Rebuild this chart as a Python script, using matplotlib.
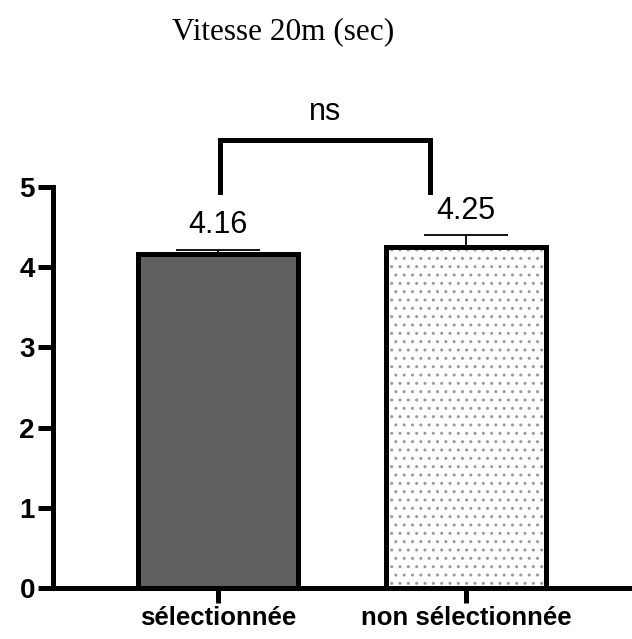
import matplotlib.pyplot as plt

# data
groups = ["sélectionnée", "non sélectionnée"]
means = [4.16, 4.25]
errs = [0.06, 0.15]
value_labels = ["4.16", "4.25"]
yticks = [0, 1, 2, 3, 4, 5]
title = "Vitesse 20m (sec)"
sig_label = "ns"

fig = plt.figure(figsize=(6.32, 6.39), dpi=100)
ax = fig.add_axes([0.0839, 0.0798, 0.9161, 0.6275])

x = list(range(len(groups)))
width = 0.645

# first bar solid grey, second dotted
ax.bar(x[0], means[0], width=width, color="#606060", edgecolor="black",
       linewidth=3.6, zorder=2)
ax.bar(x[1], means[1], width=width, color="white", edgecolor="#9a9a9a",
       hatch="..", linewidth=0, zorder=2)
ax.bar(x[1], means[1], width=width, facecolor="none", edgecolor="black",
       linewidth=3.6, zorder=3)

# upper-only error bars
for xi, m, e in zip(x, means, errs):
    ax.errorbar(xi, m, yerr=[[0], [e]], fmt="none", ecolor="black",
                elinewidth=1.3, capsize=30, capthick=1.3, zorder=1)

for xi, m, e, lab in zip(x, means, errs, value_labels):
    ax.text(xi, m + e + 0.12, lab, ha="center", va="bottom",
            fontsize=22, family="Liberation Sans")

# significance bracket
bx0, bx1 = 0.008, 0.855
ax.plot([bx0, bx0, bx1, bx1], [4.94, 5.59, 5.59, 4.94], color="black",
        lw=3.6, clip_on=False, solid_joinstyle="miter")
ax.text((bx0 + bx1) / 2, 5.75, sig_label, ha="center", va="bottom",
        fontsize=22, family="Liberation Sans")

ax.set_xlim(-0.665, 1.669)
ax.set_ylim(0, 5)
ax.set_yticks(yticks)
ax.set_xticks(x)
ax.set_xticklabels(groups)

for s in ["top", "right"]:
    ax.spines[s].set_visible(False)
for s in ["left", "bottom"]:
    ax.spines[s].set_linewidth(3.6)

ax.tick_params(axis="both", width=3.6, length=11, pad=2)
for lab in ax.get_yticklabels():
    lab.set_fontfamily("Liberation Sans")
    lab.set_fontweight("bold")
    lab.set_fontsize(20)
for lab in ax.get_xticklabels():
    lab.set_fontfamily("Liberation Sans")
    lab.set_fontweight("bold")
    lab.set_fontsize(18.5)

fig.text(0.448, 0.950, title, ha="center", va="center",
         fontsize=22.5, family="Liberation Serif")

fig.savefig("out.png", dpi=100)
